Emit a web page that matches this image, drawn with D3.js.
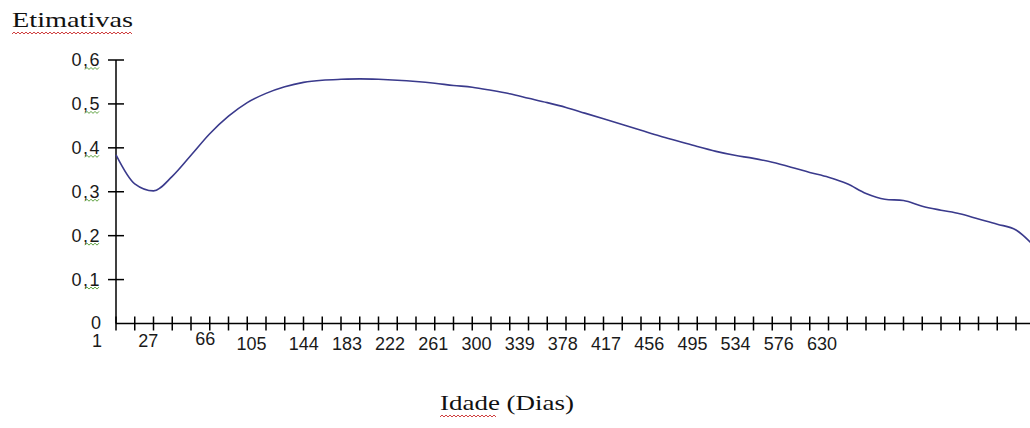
<!DOCTYPE html>
<html><head><meta charset="utf-8">
<script src="https://cdn.jsdelivr.net/npm/d3@7"></script>
<style>body{margin:0;background:#fff}svg{display:block}</style>
</head><body>
<script>
// ---- data ----
const yTicks = [0, 0.1, 0.2, 0.3, 0.4, 0.5, 0.6];
const yTickLabels = ["0", "0,1", "0,2", "0,3", "0,4", "0,5", "0,6"];
const xLabels = ["1","27","66","105","144","183","222","261","300","339","378","417","456","495","534","576","630"];
const tickCount = 50; // axis tick marks (category positions)
const estimates = [0.384,0.318,0.302,0.335,0.383,0.432,0.472,0.503,0.524,0.539,0.549,0.554,0.556,0.557,0.556,0.554,0.551,0.547,0.542,0.538,0.531,0.523,0.513,0.503,0.492,0.479,0.466,0.453,0.440,0.427,0.415,0.403,0.392,0.383,0.376,0.367,0.356,0.344,0.333,0.318,0.296,0.283,0.280,0.267,0.258,0.250,0.238,0.226,0.213,0.175];
const titleY = "Etimativas";
const titleX = "Idade (Dias)";

// ---- layout ----
const W = 1030, H = 428;
const x0 = 116, dx = 18.75, yTop = 60, yBot = 323.5;
const labelOffsets = [[-34,-3],[-26,-3],[-12,-5],[-9,0]];
const sansFont = "Liberation Sans, Arial, sans-serif";
const serifFont = "Liberation Serif, Times New Roman, serif";

const svg = d3.select("body").append("svg").attr("width", W).attr("height", H);

const x = d3.scaleLinear().domain([0, tickCount - 1]).range([x0, x0 + dx * (tickCount - 1)]);
const y = d3.scaleLinear().domain([0, 0.6]).range([yBot, yTop]);
const xl = d3.scalePoint().domain(xLabels).range([131, 822]);

function squiggle(g, x1, x2, yy, color) {
  let d = `M${x1},${yy}`; let up = true;
  for (let xx = x1 + 2; xx <= x2 + 0.01; xx += 2) { d += `L${xx},${yy + (up ? -2 : 0)}`; up = !up; }
  g.append("path").attr("d", d).attr("fill", "none").attr("stroke", color).attr("stroke-width", 1);
}

// y axis
svg.append("line").attr("x1", x0).attr("x2", x0).attr("y1", yTop).attr("y2", yBot).attr("stroke", "#000").attr("stroke-width", 1.5);
const yt = svg.append("g");
yTicks.forEach((v, i) => {
  if (v > 0) yt.append("line").attr("x1", x0 - 8).attr("x2", x0 + 8).attr("y1", y(v)).attr("y2", y(v)).attr("stroke", "#000").attr("stroke-width", 1.5);
  const t = yt.append("text").attr("x", 101).attr("y", y(v) - (v > 0 ? 0 : 1)).attr("dy", "0.36em").attr("text-anchor", "end")
    .attr("font-family", sansFont).attr("font-size", 18).attr("letter-spacing", v > 0 ? 1.5 : 0).attr("fill", "#1a1a1a").text(yTickLabels[i]);
  if (v > 0) { const b = t.node().getBBox(); squiggle(yt, Math.round(b.x + b.width * 0.45), Math.round(b.x + b.width * 0.45) + 14, b.y + b.height - 1, "#5aa03c"); }
});

// x axis
svg.append("line").attr("x1", x0).attr("x2", W).attr("y1", yBot).attr("y2", yBot).attr("stroke", "#000").attr("stroke-width", 1.5);
svg.append("g").selectAll("line").data(d3.range(tickCount)).join("line")
  .attr("x1", d => x(d)).attr("x2", d => x(d)).attr("y1", yBot - 7).attr("y2", yBot + 7)
  .attr("stroke", "#000").attr("stroke-width", 1.5);
svg.append("g").selectAll("text").data(xLabels).join("text")
  .attr("x", (d, i) => xl(d) + (labelOffsets[i] ? labelOffsets[i][0] : 0))
  .attr("y", (d, i) => 350 + (labelOffsets[i] ? labelOffsets[i][1] : 0))
  .attr("text-anchor", "middle").attr("font-family", sansFont).attr("font-size", 18).attr("fill", "#1a1a1a")
  .text(d => d);

// line
svg.append("path").datum(estimates)
  .attr("d", d3.line().x((d, i) => x(i)).y(d => y(d)).curve(d3.curveMonotoneX))
  .attr("fill", "none").attr("stroke", "#3a3a8c").attr("stroke-width", 1.6);

// titles
const ty = svg.append("text").attr("x", 12).attr("y", 27).attr("font-family", serifFont).attr("font-size", 21)
  .attr("textLength", 121).attr("lengthAdjust", "spacingAndGlyphs").attr("fill", "#111").text(titleY);
{ const b = ty.node().getBBox(); squiggle(svg, b.x, b.x + b.width, 34, "#d04040"); }
const tx = svg.append("text").attr("x", 507).attr("y", 410).attr("text-anchor", "middle").attr("font-family", serifFont).attr("font-size", 21)
  .attr("textLength", 134).attr("lengthAdjust", "spacingAndGlyphs").attr("fill", "#111").text(titleX);
{ const b = tx.node().getBBox(); squiggle(svg, b.x, b.x + 56, 417, "#d04040"); }
</script>
</body></html>
